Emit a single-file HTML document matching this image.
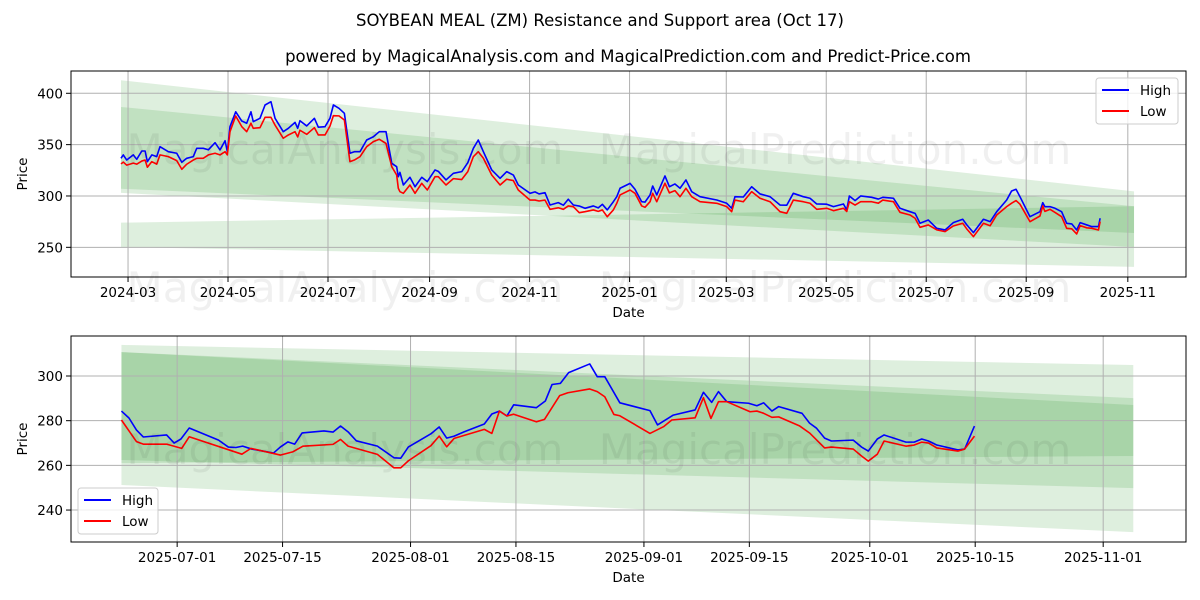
<!DOCTYPE html>
<html><head><meta charset="utf-8"><style>
html,body{margin:0;padding:0;background:#fff;}
svg{display:block;font-family:"DejaVu Sans","Liberation Sans",sans-serif;}
</style></head><body>
<svg id="chart" width="1200" height="600" viewBox="0 0 1200 600" xmlns="http://www.w3.org/2000/svg">
<rect x="0" y="0" width="1200" height="600" fill="#fff"/>
<text x="600" y="26" text-anchor="middle" font-size="16.5">SOYBEAN MEAL (ZM) Resistance and Support area (Oct 17)</text>
<text x="628" y="62" text-anchor="middle" font-size="16.5">powered by MagicalAnalysis.com and MagicalPrediction.com and Predict-Price.com</text>
<g id="top"></g>
<g id="bot"></g>
<g font-size="42" fill="#000" fill-opacity="0.06" text-anchor="middle">
<text x="345" y="164">MagicalAnalysis.com</text><text x="835" y="164">MagicalPrediction.com</text>
<text x="345" y="302">MagicalAnalysis.com</text><text x="835" y="302">MagicalPrediction.com</text>
<text x="345" y="464">MagicalAnalysis.com</text><text x="835" y="464">MagicalPrediction.com</text>
</g>
</svg>
<script>
// ===== TOP CHART DATA (day offset from 2024-03-01) =====
const topDays = [-4.3,-2.9,-0.8,3.2,5.3,8.4,10.4,11.8,14.5,17.5,19.5,24.6,29.7,32.8,35.8,39.8,41.9,45.9,49,53.1,56.1,59.2,60.6,62.2,65.7,69.4,72.4,75,76.4,80.5,83.6,87.2,89.7,94.7,97.8,101.9,103.5,104.9,109,113.7,116.1,120.2,123.2,125.3,128.7,132,135.4,138.1,141.5,145.6,149.7,153.3,157.4,160.9,163.9,164.9,165.9,168,172,175.1,179.2,182.6,187.3,189.3,194,198.5,203.6,207.3,210.7,213.7,216.8,221.9,227,231,235.1,238.1,245.3,248.3,250.8,254.4,257.5,262.5,265.6,268.6,271.7,275.3,278.8,283.9,286.9,289.4,292.4,296.1,298.2,300.2,306.3,309.3,313.4,315.4,318.5,320.1,322.6,327.6,330.3,333.7,336.8,340.4,343.9,349,359.2,365.3,368.3,370.3,375.4,380.5,385.6,391.7,397.8,401.9,405.9,412,416.1,420.2,426.3,430.4,436.5,438.5,440.1,443.6,447,453.7,457.8,460.5,467,471,477.1,480.2,483.2,488.3,493.4,498.5,503.5,509.3,511.7,515.8,521.9,526,530,536.1,539.1,541.8,544.2,550.3,556.4,558.1,559.4,562.5,565.6,569.6,572.7,575.8,578.8,580.9,585,588,592.1,593.1];
const topHigh = [336.7,340,335,340,335.7,343.8,343.8,333.4,340,338.3,348,343.1,341.6,332.8,336.7,338.3,346.4,346.4,345,351.9,344.8,353.8,343.1,367.5,382,373,370.8,382,372.4,375.6,388.6,391.8,375.6,362.6,365.9,371.7,365.9,373.3,368.2,375.6,367,367.5,375.6,388.6,385.4,380.5,341.6,343.1,343.1,354.5,357.7,362.6,362.6,331.8,328.5,318.8,323,310.7,318.2,309,318.2,314,325.3,324,315.6,322.1,323.7,332.4,346.4,354.5,343.1,325.3,317.2,323.7,320.4,310.7,302.6,304,302,303.2,291.2,293.5,291,296.8,291.2,290.2,288,290.3,288.4,291.9,286.4,294.4,299.3,307.5,312.3,306.5,294.4,294,301,309.7,301,319.5,309,311.7,307.5,315.6,304.2,299.3,296.1,292.9,288,299.3,299,309,302,299.3,291.2,291,302.6,299.3,297.8,292.2,292,289.6,292.2,286.4,300,295.5,300,298.7,297,298.7,297.8,288,284.7,283.1,273.4,276.6,268.5,266.9,274,277.3,272,264.3,277.3,275,284.7,296.1,304.9,306.5,299.3,279.8,284.7,293.5,289.6,289.6,288,284.7,273.4,272.8,266.9,274,271.8,270.2,270.2,278.3];
const topLow = [331.2,333,330,332,331,334,335,328,333.4,331,340,338.3,334.4,326,330.9,335,336.7,336.7,340,341.6,340,343.1,340,362.6,377.9,367.5,362.6,370.8,365.9,366.5,376.6,376.6,369,356.2,359.4,362.6,357.5,364,360,366.5,359.4,359.4,368,378.2,378,374,333.4,335,338.3,348,352.9,355.2,351.2,328.5,320.4,307.5,304.2,302.6,310.7,302.6,312.3,305.8,318.8,318.8,310.7,316.9,316,323.7,338.3,343.1,336.7,320.4,310.7,316.3,315,305.8,296,296,295.1,296,287,288.5,287,290.3,289.6,283.7,284.7,286.4,285,286.4,279.8,286.4,292.9,301,305.8,302.6,290.3,289,294.4,302.6,294.4,312.4,303,305.2,299.3,307.5,299.3,294.4,292.9,289.6,284.7,296,294.4,304.2,297.8,294.4,284.7,283.1,296,294.4,292.9,287,288,285.7,288,284.9,294.4,291.2,294.4,294.4,293,296,294.4,284.1,281.5,278.3,269.5,271.8,267,265.3,270.8,273.4,268,260.4,273.4,271,281.5,289.6,293,295.5,292,275,280.5,290.3,285,287,284,279.8,268.5,268,263,271.1,269,268.5,266.9,275];
const topBandDays = [-4.3, 613.8];
const topBandP = [[412.7,303],[304.5,250.3]];
const topBandQ = [[386.7,307],[290,264]];
const topBandR = [[274,250.3],[290,231]];
const topYTicks = [250,300,350,400];
const topXTickDays = [0,61,122,184,245,306,365,426,487,548,610];
const topXTickLabels = ["2024-03","2024-05","2024-07","2024-09","2024-11","2025-01","2025-03","2025-05","2025-07","2025-09","2025-11"];

// ===== BOTTOM CHART DATA (day offset from 2025-07-01) =====
const botHighDays = [-7.4,-6.4,-5.4,-4.5,-1.4,-0.4,0.5,1.6,5.5,6.8,7.8,8.7,9.9,12.8,13.7,14.7,15.6,16.6,19.5,20.7,21.7,22.7,23.8,26.6,28.8,29.7,30.7,33.7,34.8,35.8,36.8,38.1,40.8,41.8,42.8,43.8,44.7,47.7,48.9,49.8,50.9,52,54.8,55.8,56.8,58.8,62.8,63.8,65.9,68.8,69.9,71,71.9,73,75.9,77,77.9,79,79.9,83,84,84.9,86,86.9,89.8,90.9,91.8,93,93.9,96.8,97.9,98.9,99.8,100.9,103.7,104.6,105.9];
const botHigh = [284.3,281.2,275.8,272.7,273.6,270,271.8,276.7,271.3,268.2,268,268.6,267.3,265.5,268.2,270.5,269.5,274.5,275.4,274.9,277.6,275,271,268.6,263.4,263.2,268.2,274.1,277.2,272.2,273.1,275,278.5,283,284.3,282.1,287.1,285.8,288.8,296.2,296.7,301.5,305.4,299.7,299.7,288,284.5,278.1,282.5,284.8,292.7,288.2,293,288.5,287.8,286.7,288,284.3,286.3,283.3,278.9,276.7,272.2,270.9,271.3,268.2,266.4,271.8,273.6,270.4,270.4,271.8,270.9,269.1,266.9,267.3,277.6];
const botLowDays = [-7.4,-5.4,-4.5,-1.4,0.6,1.6,8.6,9.8,13.7,15.4,16.7,20.7,21.7,22.7,26.6,28.8,29.7,30.7,33.7,34.8,35.8,36.8,40.8,41.8,42.8,43.8,44.7,47.7,48.8,50.8,51.9,54.8,55.8,56.8,58,58.8,62.8,64.6,65.7,68.8,69.9,70.9,71.9,73,76.1,77,77.9,79,79.9,82.7,84,86,86.9,89.8,90.9,91.8,93,93.9,96.8,97.9,98.9,99.8,100.9,103.7,104.6,105.9];
const botLow = [280.3,270.6,269.5,269.5,267.6,272.8,265,267.6,264.6,266.1,268.6,269.4,271.6,268.6,264.9,258.9,258.9,262,268.8,273.1,268.3,272.1,276.1,274.3,284.3,282.1,282.9,279.5,280.6,291.2,292.5,294.2,293,290.7,282.8,282.2,274.3,277.3,280.3,281.3,290.3,281,288.5,288.5,284,284.3,283.3,281.5,281.7,277.6,274.5,267.8,268.2,267.3,264.2,261.9,265,270.9,268.6,269.1,270.4,270,267.8,266.4,267.3,273.1];
const botBandDays = [-7.4, 127];
const botBandA = [[313.9,251.2],[304.9,230.1]];
const botBandB = [[310.7,262.4],[290.1,249.8]];
const botBandC = [[310.7,261],[287,264.2]];
const botYTicks = [240,260,280,300];
const botXTickDays = [0,14,31,45,62,76,92,106,123];
const botXTickLabels = ["2025-07-01","2025-07-15","2025-08-01","2025-08-15","2025-09-01","2025-09-15","2025-10-01","2025-10-15","2025-11-01"];

const NS="http://www.w3.org/2000/svg";
function mk(parent,tag,attrs){const e=document.createElementNS(NS,tag);for(const k in attrs)e.setAttribute(k,attrs[k]);parent.appendChild(e);return e;}

function panel(g, cfg){
  const L=71,R=1186,T=cfg.top,B=cfg.bottom;
  const xs=d=>L+(d-cfg.xmin)/(cfg.xmax-cfg.xmin)*(R-L);
  const ys=v=>B-(v-cfg.ymin)/(cfg.ymax-cfg.ymin)*(B-T);
  const clipId='clip'+cfg.id;
  const defs=mk(g,'defs',{});const cp=mk(defs,'clipPath',{id:clipId});mk(cp,'rect',{x:L,y:T,width:R-L,height:B-T});
  const plot=mk(g,'g',{'clip-path':'url(#'+clipId+')'});
  
  
  cfg.bands.forEach((b,i)=>{
    const d0=cfg.bandDays[0],d1=cfg.bandDays[1];
    const pts=[[xs(d0),ys(b[0][0])],[xs(d1),ys(b[1][0])],[xs(d1),ys(b[1][1])],[xs(d0),ys(b[0][1])]];
    const p=mk(plot,'polygon',{points:pts.map(p=>p.join(',')).join(' '),fill:'#008000','fill-opacity':cfg.alpha});
    
    
  });
  cfg.yTicks.forEach(v=>{
    const y=ys(v);
    const l=mk(g,'line',{x1:L,x2:R,y1:y,y2:y,stroke:'#b0b0b0','stroke-width':1});
    
    
    mk(g,'line',{x1:L-5,x2:L,y1:y,y2:y,stroke:'#000','stroke-width':1});
    const t=mk(g,'text',{x:L-8,y:y+5,'text-anchor':'end','font-size':13.5});t.textContent=v;
    
    
  });
  cfg.xTickDays.forEach((d,i)=>{
    const x=xs(d);
    const l=mk(g,'line',{x1:x,x2:x,y1:T,y2:B,stroke:'#b0b0b0','stroke-width':1});
    
    
    mk(g,'line',{x1:x,x2:x,y1:B,y2:B+5,stroke:'#000','stroke-width':1});
    const t=mk(g,'text',{x:x,y:B+20,'text-anchor':'middle','font-size':13.5});t.textContent=cfg.xTickLabels[i];
    
    
  });
  const lines=mk(g,'g',{'clip-path':'url(#'+clipId+')'});
  [[cfg.hd,cfg.hv,'#0000ff','high-line'],[cfg.ld,cfg.lv,'#ff0000','low-line']].forEach(s=>{
    const p=mk(lines,'polyline',{points:s[0].map((d,i)=>xs(d)+','+ys(s[1][i])).join(' '),fill:'none',stroke:s[2],'stroke-width':1.6,'stroke-linejoin':'round'});
    
    
  });
  const fr=mk(g,'rect',{x:L,y:T,width:R-L,height:B-T,fill:'none',stroke:'#000','stroke-width':1});
  
  
  const xl=mk(g,'text',{x:(L+R)/2,y:B+40,'text-anchor':'middle','font-size':13.5});xl.textContent='Date';
  
  
  const yl=mk(g,'text',{x:0,y:0,'text-anchor':'middle','font-size':13.5,transform:'translate(27,'+((T+B)/2)+') rotate(-90)'});yl.textContent='Price';
  
  
  const lg=mk(g,'g',{});
  
  
  const lx=cfg.legend[0],ly=cfg.legend[1];
  mk(lg,'rect',{x:lx,y:ly,width:cfg.legend[2],height:46,rx:3,fill:'#fff','fill-opacity':0.8,stroke:'#ccc'});
  [['High','#0000ff'],['Low','#ff0000']].forEach((e,i)=>{
    const yy=ly+12+i*21;
    const eg=mk(lg,'g',{});
    
    
    mk(eg,'line',{x1:lx+6,x2:lx+33,y1:yy,y2:yy,stroke:e[1],'stroke-width':2});
    const t=mk(eg,'text',{x:lx+44,y:yy+5,'font-size':13.5});t.textContent=e[0];
  });
}

panel(document.getElementById('top'),{id:'t',top:71,bottom:277,xmin:-34.8,xmax:645.5,ymin:221.1,ymax:421.7,
  bands:[topBandP,topBandQ,topBandR],bandDays:topBandDays,alpha:0.13,yTicks:topYTicks,xTickDays:topXTickDays,xTickLabels:topXTickLabels,
  hd:topDays,hv:topHigh,ld:topDays,lv:topLow,legend:[1096,78,82]});
panel(document.getElementById('bot'),{id:'b',top:336,bottom:542,xmin:-14.1,xmax:134,ymin:225.7,ymax:317.9,
  bands:[botBandA,botBandB,botBandC],bandDays:botBandDays,alpha:0.13,yTicks:botYTicks,xTickDays:botXTickDays,xTickLabels:botXTickLabels,
  hd:botHighDays,hv:botHigh,ld:botLowDays,lv:botLow,legend:[78,488,80]});
</script>
</body></html>
